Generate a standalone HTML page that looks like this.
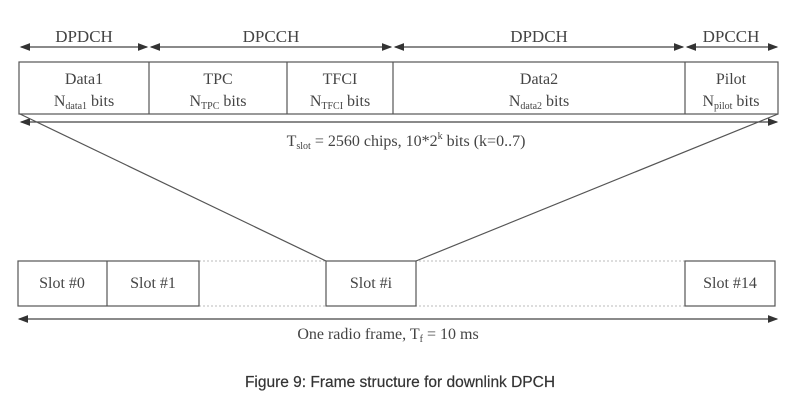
<!DOCTYPE html><html><head><style>body{margin:0;background:#fff}</style></head><body>
<svg width="800" height="412" viewBox="0 0 800 412" xmlns="http://www.w3.org/2000/svg" font-family="Liberation Serif, serif" fill="#444">
<defs><marker id="a" markerWidth="8" markerHeight="6" refX="7" refY="3" orient="auto-start-reverse"><path d="M0,0L8,3L0,6z" fill="#333"/></marker></defs>
<g stroke="#bbb" stroke-dasharray="2,2"><line x1="199" y1="261" x2="685" y2="261"/><line x1="199" y1="306" x2="685" y2="306"/></g>
<g stroke="#444" stroke-width="1.3" marker-start="url(#a)" marker-end="url(#a)">
<line x1="21" y1="47" x2="147" y2="47"/><line x1="151" y1="47" x2="391" y2="47"/>
<line x1="395" y1="47" x2="683" y2="47"/><line x1="687" y1="47" x2="777" y2="47"/>
<line x1="21" y1="122" x2="777" y2="122"/><line x1="19" y1="319" x2="777" y2="319"/>
</g>
<g font-size="17" text-anchor="middle">
<text x="84" y="42">DPDCH</text><text x="271" y="42">DPCCH</text><text x="539" y="42">DPDCH</text><text x="731" y="42">DPCCH</text>
</g>
<g fill="none" stroke="#555" stroke-width="1.2">
<rect x="19" y="62" width="759" height="52"/>
<line x1="149" y1="62" x2="149" y2="114"/><line x1="287" y1="62" x2="287" y2="114"/>
<line x1="393" y1="62" x2="393" y2="114"/><line x1="685" y1="62" x2="685" y2="114"/>
<line x1="20" y1="114" x2="326" y2="261"/><line x1="778" y1="114" x2="416" y2="261"/>
<rect x="18" y="261" width="181" height="45" fill="#fff"/><line x1="107" y1="261" x2="107" y2="306"/>
<rect x="326" y="261" width="90" height="45" fill="#fff"/><rect x="685" y="261" width="90" height="45" fill="#fff"/>
</g>
<g font-size="16" text-anchor="middle">
<text x="84" y="84">Data1</text><text x="84" y="106">N<tspan font-size="10" dy="3">data1</tspan><tspan dy="-3"> bits</tspan></text>
<text x="218" y="84">TPC</text><text x="218" y="106">N<tspan font-size="10" dy="3">TPC</tspan><tspan dy="-3"> bits</tspan></text>
<text x="340" y="84">TFCI</text><text x="340" y="106">N<tspan font-size="10" dy="3">TFCI</tspan><tspan dy="-3"> bits</tspan></text>
<text x="539" y="84">Data2</text><text x="539" y="106">N<tspan font-size="10" dy="3">data2</tspan><tspan dy="-3"> bits</tspan></text>
<text x="731" y="84">Pilot</text><text x="731" y="106">N<tspan font-size="10" dy="3">pilot</tspan><tspan dy="-3"> bits</tspan></text>
<text x="406" y="146">T<tspan font-size="10" dy="3">slot</tspan><tspan dy="-3"> = 2560 chips, 10*2</tspan><tspan font-size="10" dy="-7">k</tspan><tspan dy="7"> bits (k=0..7)</tspan></text>
<text x="62" y="288">Slot #0</text><text x="153" y="288">Slot #1</text><text x="371" y="288">Slot #i</text><text x="730" y="288">Slot #14</text>
<text x="388" y="339">One radio frame, T<tspan font-size="10" dy="3">f</tspan><tspan dy="-3"> = 10 ms</tspan></text>
</g>
<text x="400" y="387" font-family="Liberation Sans, sans-serif" font-size="15.5" text-anchor="middle" fill="#333" stroke="#333" stroke-width="0.2">Figure 9: Frame structure for downlink DPCH</text>
</svg>
</body></html>
